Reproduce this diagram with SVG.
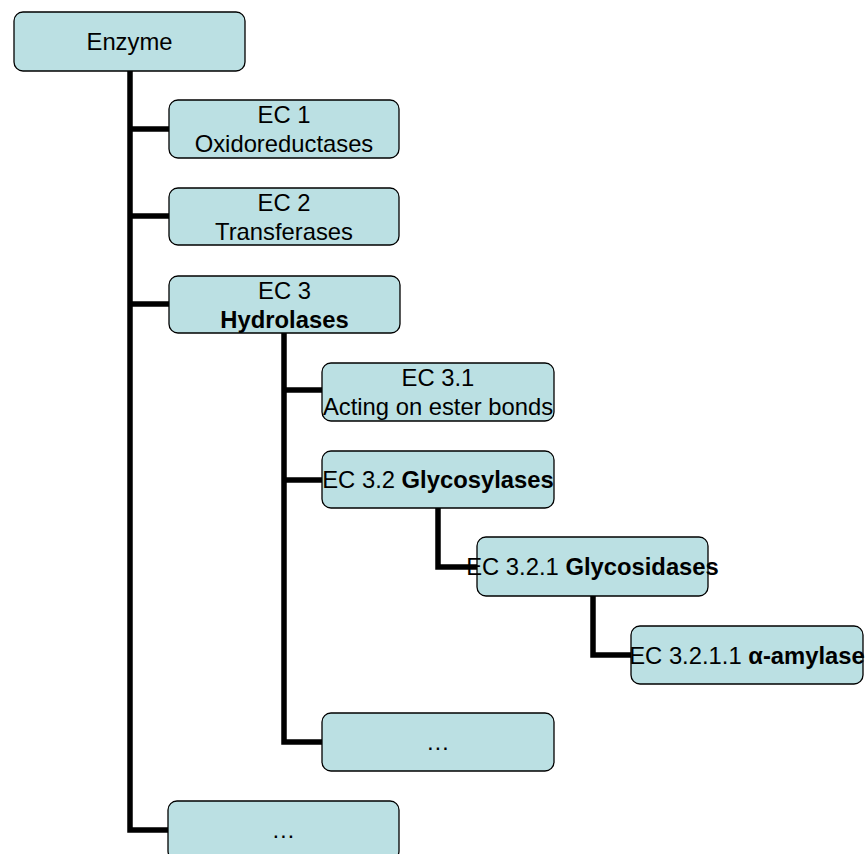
<svg xmlns="http://www.w3.org/2000/svg" width="866" height="854" viewBox="0 0 866 854">
<style>
.box{fill:#BBE0E3;stroke:#000;stroke-width:1.3}
.t{font-family:"Liberation Sans",Arial,sans-serif;font-size:23.8px;fill:#000;text-anchor:middle}
.b{font-weight:bold}
.c{fill:none;stroke:#000;stroke-width:5.5}
</style>
<g id="connectors">
<path class="c" d="M130,71 V830 H168 M130,129 H169 M130,216 H169 M130,304 H169"/>
<path class="c" d="M284,333 V742 H322 M284,390 H322 M284,480 H322"/>
<path class="c" d="M438,508 V567 H477"/>
<path class="c" d="M593,596 V655 H631"/>
</g>
<g id="enzyme"><rect class="box" x="14" y="12" width="231" height="59" rx="9"/><text class="t" x="129.5" y="50">Enzyme</text></g>
<g id="ec1"><rect class="box" x="169" y="100" width="230" height="58" rx="9"/><text class="t" x="284" y="123">EC 1</text><text class="t" x="284" y="152">Oxidoreductases</text></g>
<g id="ec2"><rect class="box" x="169" y="188" width="230" height="57" rx="9"/><text class="t" x="284" y="210.5">EC 2</text><text class="t" x="284" y="239.5">Transferases</text></g>
<g id="ec3"><rect class="box" x="169" y="276" width="231" height="57" rx="9"/><text class="t" x="284.5" y="298.5">EC 3</text><text class="t b" x="284.5" y="327.5">Hydrolases</text></g>
<g id="ec3_1"><rect class="box" x="322" y="363" width="232" height="58" rx="9"/><text class="t" x="438" y="386">EC 3.1</text><text class="t" x="438" y="415">Acting on ester bonds</text></g>
<g id="ec3_2"><rect class="box" x="322" y="451" width="232" height="57" rx="9"/><text class="t" x="438" y="488">EC 3.2 <tspan class="b">Glycosylases</tspan></text></g>
<g id="ec3_2_1"><rect class="box" x="477" y="537" width="231" height="59" rx="9"/><text class="t" x="592.5" y="575">EC 3.2.1 <tspan class="b">Glycosidases</tspan></text></g>
<g id="ec3_2_1_1"><rect class="box" x="631" y="626" width="232" height="58" rx="9"/><text class="t" x="747" y="663.5">EC 3.2.1.1 <tspan class="b">α-amylase</tspan></text></g>
<g id="ec3_more"><rect class="box" x="322" y="713" width="232" height="58" rx="9"/><text class="t" x="438" y="750">…</text></g>
<g id="ec_more"><rect class="box" x="168" y="801" width="231" height="59" rx="9"/><text class="t" x="283.5" y="838">…</text></g>
</svg>
